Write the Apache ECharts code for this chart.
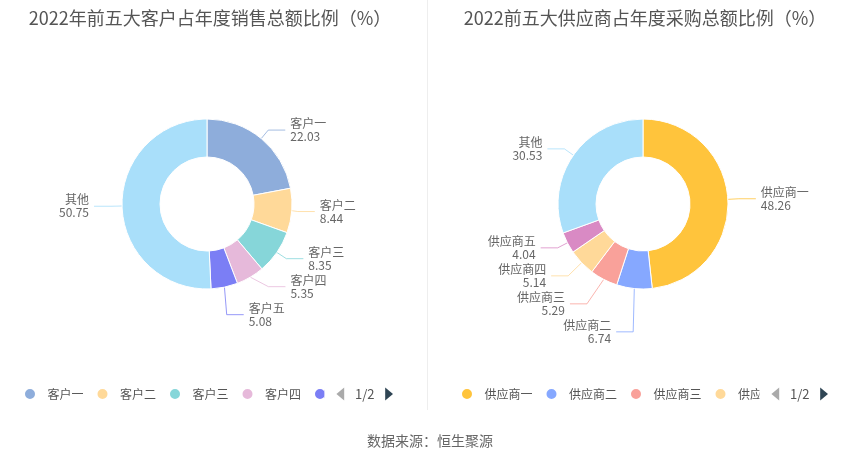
<!DOCTYPE html>
<html>
<head>
<meta charset="utf-8">
<style>
  html, body { margin: 0; padding: 0; background: #fff; }
  #main { width: 850px; height: 459px; }
</style>
<script src="https://cdn.jsdelivr.net/npm/echarts@6/dist/echarts.min.js"></script>
</head>
<body>
<div id="main"></div>
<script>
  // 客户数据
  var customerNames = ['客户一', '客户二', '客户三', '客户四', '客户五', '其他'];
  var customerValues = [22.03, 8.44, 8.35, 5.35, 5.08, 50.75];
  var customerColors = ['#8eaddb', '#ffd999', '#86d6d9', '#e6b9da', '#7b7ef5', '#a9dffa'];

  // 供应商数据
  var supplierNames = ['供应商一', '供应商二', '供应商三', '供应商四', '供应商五', '其他'];
  var supplierValues = [48.26, 6.74, 5.29, 5.14, 4.04, 30.53];
  var supplierColors = ['#ffc43c', '#86a8ff', '#f9a19a', '#ffd999', '#d98ac4', '#a9dffa'];

  var font = '"Noto Sans CJK SC", "Noto Sans", sans-serif';

  function toData(names, values, colors) {
    var arr = [];
    for (var i = 0; i < names.length; i++) {
      arr.push({ name: names[i], value: values[i], itemStyle: { color: colors[i] } });
    }
    return arr;
  }

  function pieSeries(name, center, data) {
    return {
      name: name,
      type: 'pie',
      center: center,
      radius: [47, 85],
      startAngle: 90,
      avoidLabelOverlap: true,
      itemStyle: { borderColor: '#fff', borderWidth: 1 },
      label: {
        formatter: '{b}\n{c}',
        color: '#666',
        fontSize: 12,
        lineHeight: 13,
        fontFamily: font
      },
      labelLine: { length: 11, length2: 17, lineStyle: { width: 1, opacity: 0.8 } },
      emphasis: { scale: false },
      data: data
    };
  }

  function legend(idx, left, width, names) {
    return {
      type: 'scroll',
      seriesIndex: idx,
      data: names,
      left: left,
      width: width,
      top: 382,
      icon: 'circle',
      itemWidth: 25,
      itemHeight: 12,
      itemGap: 12,
      textStyle: { color: '#555', fontSize: 12, fontFamily: font },
      pageIconColor: '#2f4554',
      pageIconInactiveColor: '#aaa',
      pageIconSize: 13,
      pageButtonItemGap: 5,
      pageTextStyle: { color: '#555', fontSize: 13, fontFamily: font }
    };
  }

  var chart = echarts.init(document.getElementById('main'));
  var option = {
    backgroundColor: '#fff',
    title: [
      {
        text: '2022年前五大客户占年度销售总额比例（%）',
        left: 205, top: 4, textAlign: 'center',
        textStyle: { color: '#555', fontSize: 18, fontWeight: 'normal', fontFamily: font }
      },
      {
        text: '2022前五大供应商占年度采购总额比例（%）',
        left: 640, top: 4, textAlign: 'center',
        textStyle: { color: '#555', fontSize: 18, fontWeight: 'normal', fontFamily: font }
      },
      {
        text: '数据来源：恒生聚源',
        left: 425, top: 429, textAlign: 'center',
        textStyle: { color: '#666', fontSize: 14, fontWeight: 'normal', fontFamily: font }
      }
    ],
    legend: [
      legend(0, 18, 370, customerNames),
      legend(1, 455, 368, supplierNames)
    ],
    graphic: [{
      type: 'line',
      shape: { x1: 427.5, y1: 0, x2: 427.5, y2: 410 },
      style: { stroke: '#eee', lineWidth: 1 }
    }],
    series: [
      pieSeries('客户', [207, 204], toData(customerNames, customerValues, customerColors)),
      pieSeries('供应商', [643, 204], toData(supplierNames, supplierValues, supplierColors))
    ]
  };
  chart.setOption(option);
</script>
</body>
</html>
